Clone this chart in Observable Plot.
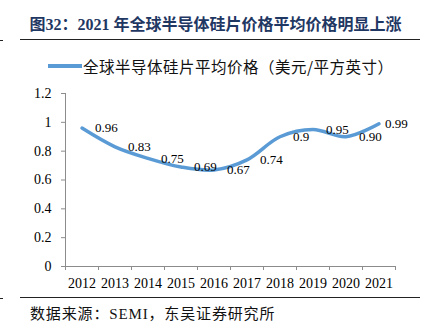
<!DOCTYPE html>
<html><head><meta charset="utf-8">
<script src="https://cdn.jsdelivr.net/npm/d3@7"></script>
<script src="https://cdn.jsdelivr.net/npm/@observablehq/plot@0.6"></script>
<style>
body{margin:0;background:#fff;}
#wrap{position:relative;width:431px;height:329px;overflow:hidden;background:#fff;}
#chart{position:absolute;left:0;top:0;}
.abs{position:absolute;white-space:nowrap;}
#title{left:0;width:431px;text-align:center;top:15px;font:bold 16px "Liberation Serif","Noto Sans CJK SC",serif;color:#1f3763;line-height:20px;}
#rule1{left:20px;top:39px;width:400px;height:0;border-top:1.5px solid #222;}
#dash1{left:0;top:40px;width:3px;height:0;border-top:1px solid #222;}
#legend{left:83px;top:56px;font:15.5px "Noto Sans CJK SC",sans-serif;color:#111;line-height:20px;letter-spacing:0.5px;}
#swatch{left:48px;top:64px;width:34px;height:3.5px;background:#5b9bd5;}
#rule2{left:20px;top:297px;width:400px;height:0;border-top:1.5px solid #222;}
#dash2{left:0;top:298px;width:3px;height:0;border-top:1px solid #222;}
#source{left:30px;top:304px;font:15px "Liberation Serif","Noto Sans CJK SC",serif;color:#111;line-height:20px;letter-spacing:0.85px;}
</style></head><body>
<div id="wrap">
<div id="chart"></div>
<div class="abs" id="title">图32：2021 年全球半导体硅片价格平均价格明显上涨</div>
<div class="abs" id="dash1"></div>
<div class="abs" id="rule1"></div>
<div class="abs" id="swatch"></div>
<div class="abs" id="legend">全球半导体硅片平均价格（美元/平方英寸）</div>
<div class="abs" id="dash2"></div>
<div class="abs" id="rule2"></div>
<div class="abs" id="source">数据来源：SEMI，东吴证券研究所</div>
</div>
<script>
const years = [2012, 2013, 2014, 2015, 2016, 2017, 2018, 2019, 2020, 2021];
const prices = [0.96, 0.83, 0.75, 0.69, 0.67, 0.74, 0.9, 0.95, 0.90, 0.99];
const priceLabels = ["0.96", "0.83", "0.75", "0.69", "0.67", "0.74", "0.9", "0.95", "0.90", "0.99"];
const yTicks = [0, 0.2, 0.4, 0.6, 0.8, 1, 1.2];

const data = years.map((year, i) => ({year, price: prices[i], label: priceLabels[i]}));
const lastIndex = data.length - 1;
const bounds = [...years.map(y => y - 0.5), years[lastIndex] + 0.5];
const gray = "#8c8c8c";
const serif = "Liberation Serif, Times New Roman, serif";

const chart = Plot.plot({
  width: 431,
  height: 329,
  marginLeft: 65,
  marginRight: 36,
  marginTop: 93,
  marginBottom: 63,
  style: {background: "transparent"},
  x: {domain: [bounds[0], bounds[bounds.length - 1]], label: null},
  y: {domain: [0, 1.2], label: null},
  marks: [
    Plot.ruleY([0], {stroke: gray}),
    Plot.ruleX([bounds[0]], {stroke: gray}),
    Plot.axisY({ticks: yTicks, tickFormat: d => String(d), tickSize: 4, tickPadding: 10,
      fontSize: 14, fontFamily: serif, stroke: gray, fill: "#000", label: null}),
    Plot.axisX({ticks: bounds, tickFormat: () => "", tickSize: 4, stroke: gray, label: null}),
    Plot.axisX({ticks: years, tickFormat: d => String(d), tickSize: 0, tickPadding: 12,
      fontSize: 14, fontFamily: serif, fill: "#000", label: null}),
    Plot.line(data, {x: "year", y: "price", stroke: "#5b9bd5", strokeWidth: 3.5, curve: "catmull-rom"}),
    Plot.text(data.slice(0, lastIndex), {x: "year", y: "price", text: "label", textAnchor: "start", dx: 13,
      fontSize: 13, fontFamily: serif, fill: "#000"}),
    Plot.text(data.slice(lastIndex), {x: "year", y: "price", text: "label", textAnchor: "start", dx: 6,
      fontSize: 13, fontFamily: serif, fill: "#000"})
  ]
});
document.getElementById("chart").appendChild(chart);
</script>
</body></html>
